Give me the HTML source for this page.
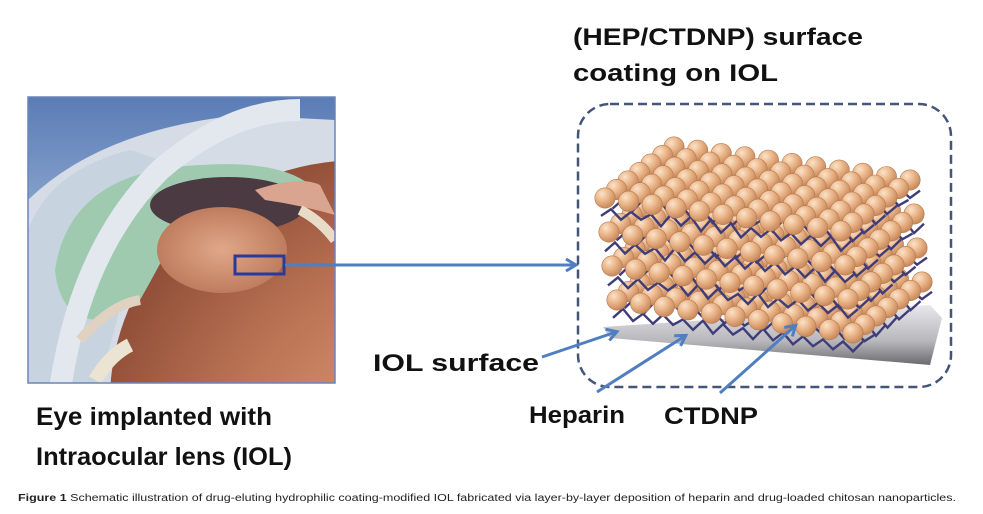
<!DOCTYPE html>
<html><head><meta charset="utf-8"><style>
html,body{margin:0;padding:0;background:#fff;width:983px;height:514px;overflow:hidden}
svg{display:block}
.t{font-family:"Liberation Sans",sans-serif;font-weight:bold;fill:#111}
</style></head><body>
<svg id="s" width="983" height="514" viewBox="0 0 983 514" xmlns="http://www.w3.org/2000/svg">
<defs>
<linearGradient id="bg" x1="0" y1="0" x2="0" y2="1"><stop offset="0" stop-color="#5a7cb6"/><stop offset="0.6" stop-color="#9fb6d8"/><stop offset="1" stop-color="#c9d5e6"/></linearGradient>
<radialGradient id="globe" cx="0.7" cy="0.7" r="0.8"><stop offset="0" stop-color="#e6b08e"/><stop offset="0.6" stop-color="#bd7656"/><stop offset="1" stop-color="#8c4a35"/></radialGradient>
<radialGradient id="lens" cx="0.5" cy="0.5" r="0.6"><stop offset="0" stop-color="#e0a888"/><stop offset="1" stop-color="#b87456"/></radialGradient>
<radialGradient id="ball" cx="0.35" cy="0.3" r="0.7"><stop offset="0" stop-color="#fbe2c8"/><stop offset="0.5" stop-color="#eab68a"/><stop offset="1" stop-color="#c98a5c"/></radialGradient>
<linearGradient id="plate" x1="0" y1="0" x2="0" y2="1"><stop offset="0" stop-color="#e8e8ec"/><stop offset="0.6" stop-color="#b8b8bc"/><stop offset="1" stop-color="#6a6a6e"/></linearGradient>
<clipPath id="ec"><rect x="28" y="97" width="307" height="286"/></clipPath>
<marker id="ah2" markerWidth="14" markerHeight="14" refX="10" refY="7" orient="auto" markerUnits="userSpaceOnUse"><path d="M1,1 L11,7 L1,13" fill="none" stroke="#4f7fc0" stroke-width="3"/></marker>
</defs>
<!-- eye -->
<g clip-path="url(#ec)">
<rect x="28" y="97" width="307" height="286" fill="url(#bg)"/>
<path d="M28,200 Q100,130 240,115 L335,120 L335,383 L28,383 Z" fill="#d5dce6"/>
<path d="M28,230 Q50,170 130,150 L160,160 L100,383 L28,383 Z" fill="#c8d3e0"/>
<ellipse cx="360" cy="400" rx="250" ry="240" fill="url(#globe)"/>
<path d="M55,270 Q70,170 200,165 Q280,160 310,185 L300,200 Q220,185 180,225 Q160,265 140,300 L100,320 Q60,320 55,270 Z" fill="#9fcab0"/>
<ellipse cx="228" cy="205" rx="78" ry="28" fill="#4b3a42"/>
<ellipse cx="222" cy="250" rx="65" ry="43" fill="url(#lens)"/>
<path d="M255,190 Q300,175 320,185 L335,215 Q300,205 265,200 Z" fill="#d9a590"/>
<path d="M60,390 Q80,250 160,170 Q230,110 300,110" fill="none" stroke="#e3e8ef" stroke-width="22"/>
<path d="M80,340 Q110,305 140,300" fill="none" stroke="#e0d2c0" stroke-width="10"/>
<path d="M95,380 Q110,355 130,345" fill="none" stroke="#ece4d2" stroke-width="14"/>
<path d="M300,210 Q320,220 335,240" fill="none" stroke="#e8dcc8" stroke-width="10"/>
</g>
<rect x="28" y="97" width="307" height="286" fill="none" stroke="#6b86b8" stroke-width="1.5"/>
<rect x="235" y="256" width="49" height="18" fill="none" stroke="#2a3a9a" stroke-width="3"/>
<line x1="285" y1="265" x2="575" y2="265" stroke="#4f7fc0" stroke-width="3" marker-end="url(#ah2)"/>
<!-- dashed box -->
<rect x="578" y="104" width="373" height="283" rx="32" fill="none" stroke="#44557a" stroke-width="2.5" stroke-dasharray="9,5"/>
<!-- plate -->
<polygon points="603,327 930,305 942,318 930,365 610,338" fill="url(#plate)"/>
<g id="parts"></g>
<!-- small arrows -->
<line x1="542" y1="357" x2="616" y2="332" stroke="#4f7fc0" stroke-width="3" marker-end="url(#ah2)"/>
<line x1="597" y1="392" x2="685" y2="336" stroke="#4f7fc0" stroke-width="3" marker-end="url(#ah2)"/>
<line x1="720" y1="393" x2="795" y2="326" stroke="#4f7fc0" stroke-width="3" marker-end="url(#ah2)"/>
<!-- text -->
<text class="t" x="573" y="45" font-size="24" textLength="290" lengthAdjust="spacingAndGlyphs">(HEP/CTDNP) surface</text>
<text class="t" x="573" y="81" font-size="24" textLength="205" lengthAdjust="spacingAndGlyphs">coating on IOL</text>
<text class="t" x="373" y="371" font-size="24" textLength="166" lengthAdjust="spacingAndGlyphs">IOL surface</text>
<text class="t" x="529" y="423" font-size="24" textLength="96" lengthAdjust="spacingAndGlyphs">Heparin</text>
<text class="t" x="664" y="424" font-size="24" textLength="94" lengthAdjust="spacingAndGlyphs">CTDNP</text>
<text class="t" x="36" y="425" font-size="25" textLength="236" lengthAdjust="spacingAndGlyphs">Eye implanted with</text>
<text class="t" x="36" y="465" font-size="25" textLength="256" lengthAdjust="spacingAndGlyphs">Intraocular lens (IOL)</text>
<text x="18" y="501" font-size="10" font-family="Liberation Sans,sans-serif" fill="#222" textLength="938" lengthAdjust="spacingAndGlyphs"><tspan font-weight="bold">Figure 1</tspan> Schematic illustration of drug-eluting hydrophilic coating-modified IOL fabricated via layer-by-layer deposition of heparin and drug-loaded chitosan nanoparticles.</text>
</svg>
<script>
(function(){
var g=document.getElementById('parts'),h='';
var layers=[[617,300],[612,266],[609,232],[605,198]];
var seed=7;function rnd(){seed=(seed*9301+49297)%233280;return seed/233280;}
for(var L=0;L<4;L++){
 var ox=layers[L][0],oy=layers[L][1];
 for(var j=6;j>=0;j--){
  var p='';
  for(var k=0;k<26;k++){
   var x=ox-4+j*11.5+k*10, y=oy+13-j*8.5+k*1.4+((k%2)?-5:5)+(rnd()-0.5)*4;
   p+=(k?'L':'M')+x.toFixed(1)+','+y.toFixed(1);
  }
  h+='<path d="'+p+'" fill="none" stroke="#3f3d78" stroke-width="2.4"/>';
 }
 for(var j=6;j>=0;j--){
  for(var i=0;i<11;i++){
   var cx=ox+j*11.5+i*23.6, cy=oy-j*8.5+i*3.3;
   h+='<circle cx="'+cx.toFixed(1)+'" cy="'+cy.toFixed(1)+'" r="10.2" fill="url(#ball)" stroke="#b57a4e" stroke-width="0.6"/>';
  }
 }
}
g.innerHTML=h;
})();
</script>
</body></html>
